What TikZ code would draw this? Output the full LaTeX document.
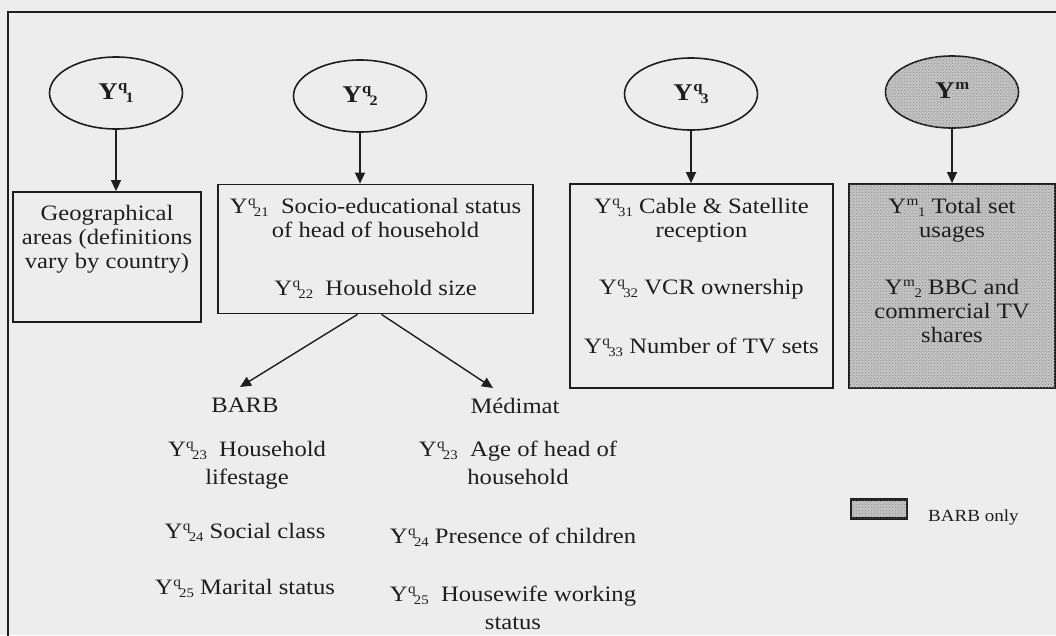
\documentclass[tikz,border=0pt]{standalone}
\usepackage{fontspec}
\setmainfont[FakeStretch=1.12]{Liberation Serif}
\usetikzlibrary{shapes.geometric,arrows.meta,patterns}

\definecolor{paper}{RGB}{237,237,237}
\definecolor{ink}{RGB}{30,30,30}
\definecolor{shadebg}{RGB}{196,196,196}
\definecolor{shadedot}{RGB}{140,140,140}

% Y with a raised q (or m) and a lowered index
\newcommand\Yq[1]{Y\kern0.02em\raisebox{0.36em}{\scalebox{0.62}{q}}\kern-0.08em\raisebox{-0.12em}{\scalebox{0.6}{#1}}}
\newcommand\Ym[1]{Y\kern0.02em\raisebox{0.36em}{\scalebox{0.62}{m}}\kern-0.02em\raisebox{-0.12em}{\scalebox{0.6}{#1}}}

\tikzset{
  x=1pt, y=-1pt,
  ell/.style={ellipse, draw=ink, line width=1.6pt, minimum width=133pt,
    minimum height=72pt, inner sep=0pt, font=\bfseries\fontsize{24}{26}\selectfont, text=ink},
  box/.style={draw=ink, line width=1.8pt, inner sep=0pt},
  txt/.style={align=center, inner sep=0pt, anchor=north, text=ink,
    font=\fontsize{22}{24}\selectfont},
  low/.style={txt, font=\fontsize{22}{28}\selectfont},
  arr/.style={draw=ink, line width=1.4pt, -{Triangle[width=10pt,length=11pt]}},
  barbfill/.style={fill=shadebg, postaction={pattern=crosshatch dots, pattern color=shadedot}},
}

\begin{document}
\begin{tikzpicture}
\useasboundingbox (0,0) rectangle (1056,635);
\clip (0,0) rectangle (1056,635);
\fill[paper] (0,0) rectangle (1056,635);
% outer frame, running off the right and bottom edges
\draw[ink, line width=2pt] (8,12) rectangle (1070,650);

% top-level variables
\node[ell] (e1) at (116,93) {\Yq{1}};
\node[ell] (e2) at (360,96) {\Yq{2}};
\node[ell] (e3) at (691,94) {\Yq{3}};
\node[ell, barbfill] (e4) at (952,92) {\Ym{}};

% boxes
\node[box, minimum width=188pt, minimum height=130pt] (b1) at (107,257) {};
\node[box, minimum width=315pt, minimum height=129pt] (b2) at (375.5,249) {};
\node[box, minimum width=263pt, minimum height=204pt] (b3) at (701.5,286) {};
\node[box, barbfill, minimum width=206pt, minimum height=204pt] (b4) at (952,286) {};

% box texts
\node[txt] (t1) at (107,205) {Geographical\\areas (definitions\\vary by country)};
\node[txt] (t2) at (375.5,198) {\Yq{21}\ \ Socio-educational status\\of head of household\\[34pt]\Yq{22}\ \ Household size};
\node[txt] (t3) at (701.5,198) {\Yq{31} Cable \& Satellite\\reception\\[33pt]\Yq{32} VCR ownership\\[35pt]\Yq{33} Number of TV sets};
\node[txt] (t4) at (952,198) {\Ym{1} Total set\\usages\\[33pt]\Ym{2} BBC and\\commercial TV\\shares};

% arrows from variables to boxes
\draw[arr] (e1.south) -- (e1.south |- b1.north);
\draw[arr] (e2.south) -- (e2.south |- b2.north);
\draw[arr] (e3.south) -- (e3.south |- b3.north);
\draw[arr] (e4.south) -- (e4.south |- b4.north);

% BARB branch
\node[low] (barb) at (245,398) {BARB};
\node[low] (barb1) at (247,441) {\Yq{23}\ \ Household\\lifestage};
\node[low] (barb2) at (245,523) {\Yq{24} Social class};
\node[low] (barb3) at (245,579) {\Yq{25} Marital status};

% Médimat branch
\node[low] (med) at (515,398) {Médimat};
\node[low] (med1) at (518,441) {\Yq{23}\ \ Age of head of\\household};
\node[low] (med2) at (513,528) {\Yq{24} Presence of children};
\node[low] (med3) at (513,586) {\Yq{25}\ \ Housewife working\\status};

\coordinate (barbtip) at (240,387);
\coordinate (medtip) at (493,388);
\draw[arr] ([xshift=-18pt]b2.south) -- (barbtip);
\draw[arr] ([xshift=6pt]b2.south) -- (medtip);

% legend
\node[box, barbfill, line width=2.4pt, minimum width=56pt, minimum height=19pt] (key) at (879,509) {};
\node[txt, anchor=base west, font=\fontsize{17}{20}\selectfont] (keytext) at (928,521) {BARB only};
\end{tikzpicture}
\end{document}
